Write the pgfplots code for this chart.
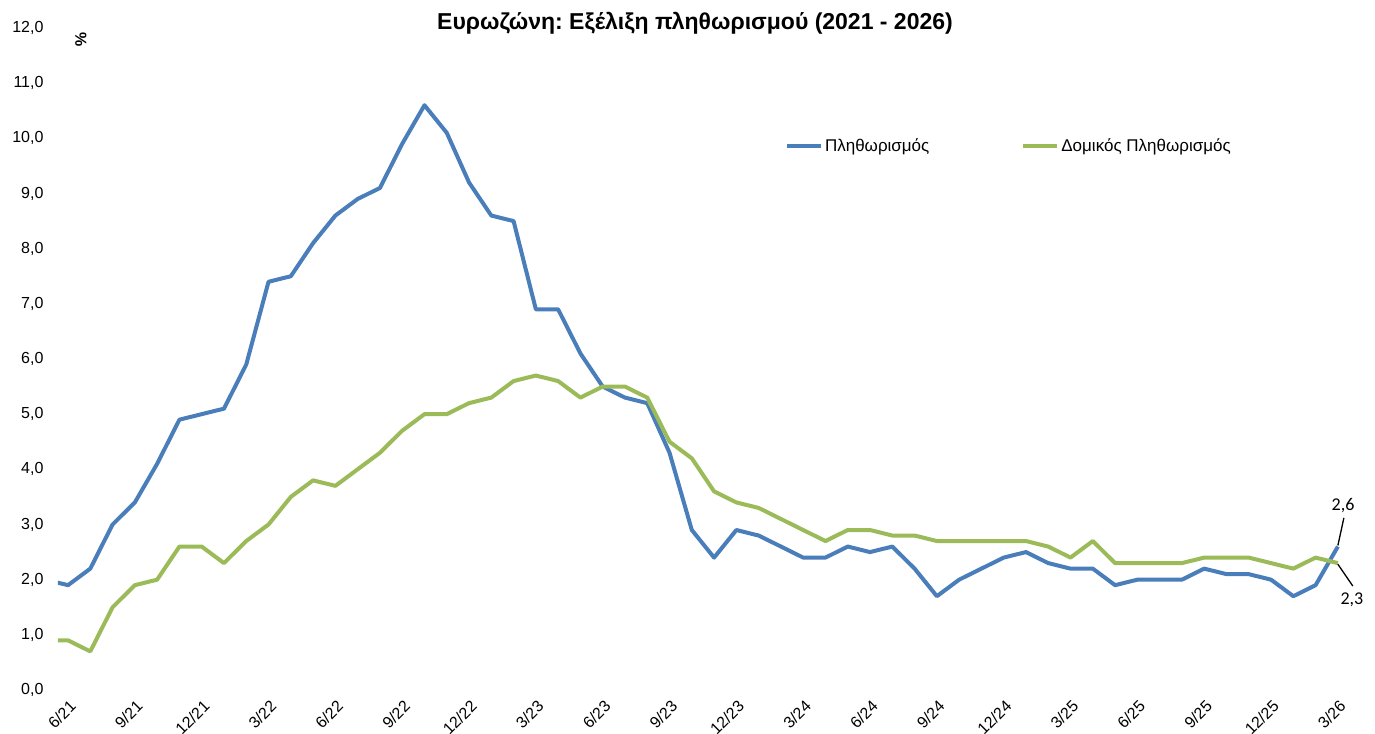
\documentclass[border=0pt]{standalone}
\usepackage{pgfplots}
\usepackage{pgfplotstable}
\pgfplotsset{compat=1.18}
\usepackage{fontspec}
\setmainfont{Liberation Sans}
\newfontfamily\annfont{Carlito}
\frenchspacing
\definecolor{cblue}{HTML}{4A7EBB}
\definecolor{cgreen}{HTML}{9BBB59}
\pgfplotstableread{
x blue green
-1 2.0 0.9
0 1.9 0.9
1 2.2 0.7
2 3.0 1.5
3 3.4 1.9
4 4.1 2.0
5 4.9 2.6
6 5.0 2.6
7 5.1 2.3
8 5.9 2.7
9 7.4 3.0
10 7.5 3.5
11 8.1 3.8
12 8.6 3.7
13 8.9 4.0
14 9.1 4.3
15 9.9 4.7
16 10.6 5.0
17 10.1 5.0
18 9.2 5.2
19 8.6 5.3
20 8.5 5.6
21 6.9 5.7
22 6.9 5.6
23 6.1 5.3
24 5.5 5.5
25 5.3 5.5
26 5.2 5.3
27 4.3 4.5
28 2.9 4.2
29 2.4 3.6
30 2.9 3.4
31 2.8 3.3
32 2.6 3.1
33 2.4 2.9
34 2.4 2.7
35 2.6 2.9
36 2.5 2.9
37 2.6 2.8
38 2.2 2.8
39 1.7 2.7
40 2.0 2.7
41 2.2 2.7
42 2.4 2.7
43 2.5 2.7
44 2.3 2.6
45 2.2 2.4
46 2.2 2.7
47 1.9 2.3
48 2.0 2.3
49 2.0 2.3
50 2.0 2.3
51 2.2 2.4
52 2.1 2.4
53 2.1 2.4
54 2.0 2.3
55 1.7 2.2
56 1.9 2.4
57 2.6 2.3
}\data
\begin{document}
\begin{tikzpicture}
\useasboundingbox (-58pt,-43pt) rectangle (1317pt,690pt);
\node[font=\bfseries\fontsize{23}{27}\selectfont] at (637pt,667pt) {Ευρωζώνη: Εξέλιξη πληθωρισμού (2021 - 2026)};
\node[font=\bfseries\fontsize{16}{18}\selectfont, rotate=-90] at (23pt,650pt) {\%};
\begin{axis}[
  at={(0pt,0pt)}, anchor=south west,
  scale only axis, width=1291pt, height=662pt,
  xmin=-0.45, xmax=57.5, ymin=0, ymax=12,
  axis line style={draw=none}, major tick length=0pt,
  clip mode=individual,
  xtick={0,3,...,57},
  xticklabels={6/21,9/21,12/21,3/22,6/22,9/22,12/22,3/23,6/23,9/23,12/23,3/24,6/24,9/24,12/24,3/25,6/25,9/25,12/25,3/26},
  x tick label style={rotate=45, anchor=east, font=\fontsize{16}{19}\selectfont, inner sep=1pt, yshift=-13pt, xshift=-5pt},
  ytick={0,1,...,12},
  y tick label style={font=\fontsize{16}{19}\selectfont, xshift=-11pt},
  /pgf/number format/.cd, fixed, fixed zerofill, precision=1, use comma, assume math mode=true,
  /pgfplots/.cd,
  legend style={at={(0.563,0.822)}, anchor=west, draw=none, fill=none, inner sep=0pt,
    font=\fontsize{17}{20}\selectfont, legend columns=2,
    /tikz/every even column/.append style={column sep=90pt}},
  legend image code/.code={\draw[#1] (0pt,0pt) -- (34pt,0pt);},
]
\addplot[cblue, line width=4pt, line join=round] table[x=x, y=blue] {\data};
\addlegendentry{Πληθωρισμός}
\addplot[cgreen, line width=4pt, line join=round] table[x=x, y=green] {\data};
\addlegendentry{Δομικός Πληθωρισμός}
\draw[black, line width=1.3pt] (axis cs:57,2.62) -- (axis cs:57.27,3.12);
\node[font=\annfont\fontsize{18}{21}\selectfont] at (axis cs:57.23,3.34) {2,6};
\draw[black, line width=1.3pt] (axis cs:57,2.28) -- (axis cs:57.67,1.885);
\node[font=\annfont\fontsize{18}{21}\selectfont] at (axis cs:57.63,1.63) {2,3};
\end{axis}
\end{tikzpicture}
\end{document}
